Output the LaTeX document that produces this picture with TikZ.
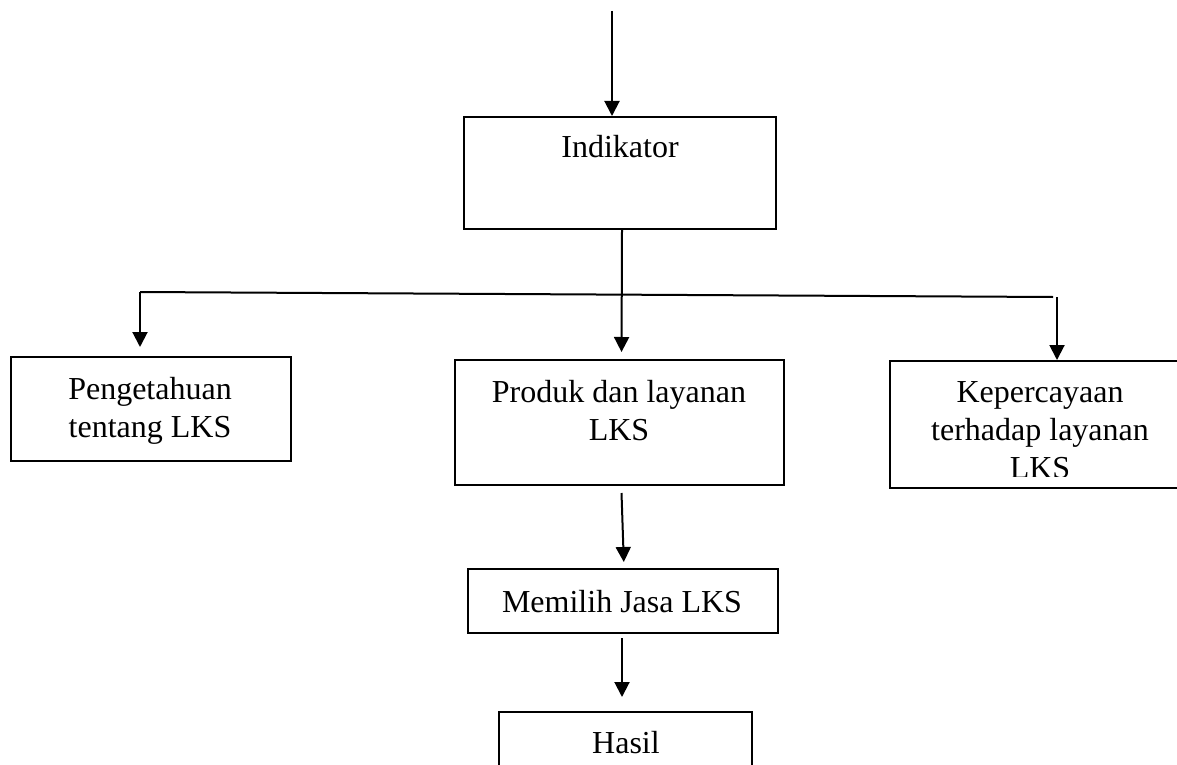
\documentclass[tikz,border=0pt]{standalone}
\usepackage{fontspec}
\setmainfont{Liberation Serif}
\usetikzlibrary{arrows.meta}
\begin{document}
\begin{tikzpicture}[x=0.5pt,y=-0.5pt,
  box/.style={draw, line width=1pt, inner sep=0pt},
  txt/.style={inner sep=0pt, align=center, anchor=base, font=\fontsize{16}{19}\selectfont},
  conn/.style={line width=1pt, -{Triangle[width=7.5pt,length=7.5pt]}},
  plainline/.style={line width=1pt}]
\useasboundingbox (0,0) rectangle (1177,765);
\clip (0,0) rectangle (1177,765);
% boxes
\node[box, minimum width=156pt, minimum height=56pt] (ind) at (620,173) {};
\node[txt] (indt) at (620,157) {Indikator};
\node[box, minimum width=140pt, minimum height=52pt] (peng) at (151,409) {};
\node[txt] (pengt) at (150,437) {Pengetahuan\\tentang LKS};
\node[box, minimum width=164.5pt, minimum height=62.5pt] (prod) at (619.5,422.5) {};
\node[txt] (prodt) at (619,440) {Produk dan layanan\\LKS};
\node[box, minimum width=150pt, minimum height=63.5pt] (kep) at (1040,424.5) {};
\begin{scope}
  \clip (880,362) rectangle (1177,476);
  \node[txt] (kept) at (1040,478) {Kepercayaan\\terhadap layanan\\LKS};
\end{scope}
\node[box, minimum width=155pt, minimum height=32pt] (mem) at (623,601) {};
\node[txt] (memt) at (622,612) {Memilih Jasa LKS};
\node[box, minimum width=126.5pt, minimum height=44pt] (has) at (625.5,756) {};
\node[txt] (hast) at (626,753) {Hasil};
% connectors
\coordinate (start) at (612,11);
\draw[conn] (start) -- (start |- ind.north);
\coordinate (bl) at (140,292);
\coordinate (br) at (1053,297);
\coordinate (brv) at (1057,297);
\draw[plainline] (bl) -- (br);
\draw[conn, shorten >=4.5pt] (bl) -- (bl |- peng.north);
\draw[conn] (brv) -- (brv |- kep.north);
\draw[conn, shorten >=3.5pt] ([xshift=1pt]ind.south) -- ([xshift=1pt]prod.north);
\draw[conn, shorten >=3pt] ([xshift=1pt,yshift=-3.5pt]prod.south) -- ([xshift=0.5pt]mem.north);
\draw[conn, shorten >=7pt] ([xshift=-0.5pt,yshift=-2pt]mem.south) -- ([xshift=-0.5pt]mem.south |- has.north);
\end{tikzpicture}
\end{document}
